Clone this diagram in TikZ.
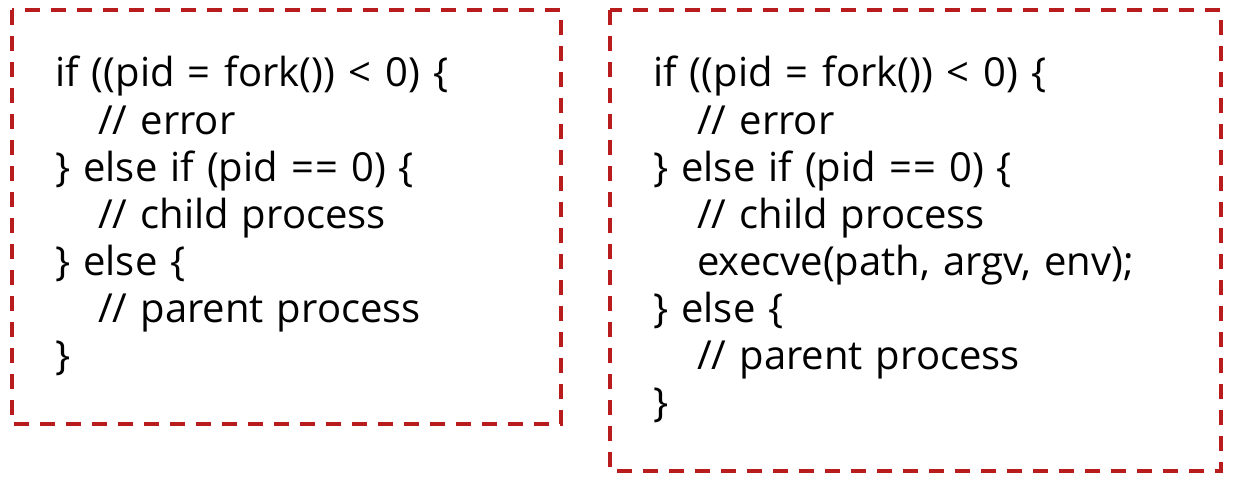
\documentclass[tikz,border=0pt]{standalone}
\usepackage{fontspec}
\setmainfont{Open Sans}[WordSpace={1.25,0,0}]
\definecolor{boxred}{RGB}{185,28,28}
\tikzset{
  codebox/.style={draw=boxred, line width=2.5pt, dash pattern=on 11.5pt off 8pt},
  code/.style={anchor=base west, inner sep=0pt, font=\fontsize{30}{34}\selectfont}
}
\begin{document}
\begin{tikzpicture}[x=0.75pt,y=-0.75pt]
\useasboundingbox (0,0) rectangle (1238,485);
\draw[codebox] (12,10) rectangle (561,424);
\draw[codebox] (610,10) rectangle (1221,471);
% left code
\node[code] (l1) at (55,87)  {if ((pid =\kern1pt{} fork()) <\kern1pt{} 0) \{};
\node[code] (l2) at (98,134) {// error};
\node[code] (l3) at (55,181) {\} else if (pid =\kern1pt= 0) \{};
\node[code] (l4) at (98,228) {// child process};
\node[code] (l5) at (55,275) {\} else \{};
\node[code] (l6) at (98,322) {// parent process};
\node[code] (l7) at (55,369) {\}};
% right code
\node[code] (r1) at (653,87)  {if ((pid =\kern1pt{} fork()) <\kern1pt{} 0) \{};
\node[code] (r2) at (697,134) {// error};
\node[code] (r3) at (653,181) {\} else if (pid =\kern1pt= 0) \{};
\node[code] (r4) at (697,228) {// child process};
\node[code] (r5) at (697,275) {execve(path, argv, env);};
\node[code] (r6) at (653,322) {\} else \{};
\node[code] (r7) at (697,369) {// parent process};
\node[code] (r8) at (653,416) {\}};
\end{tikzpicture}
\end{document}
